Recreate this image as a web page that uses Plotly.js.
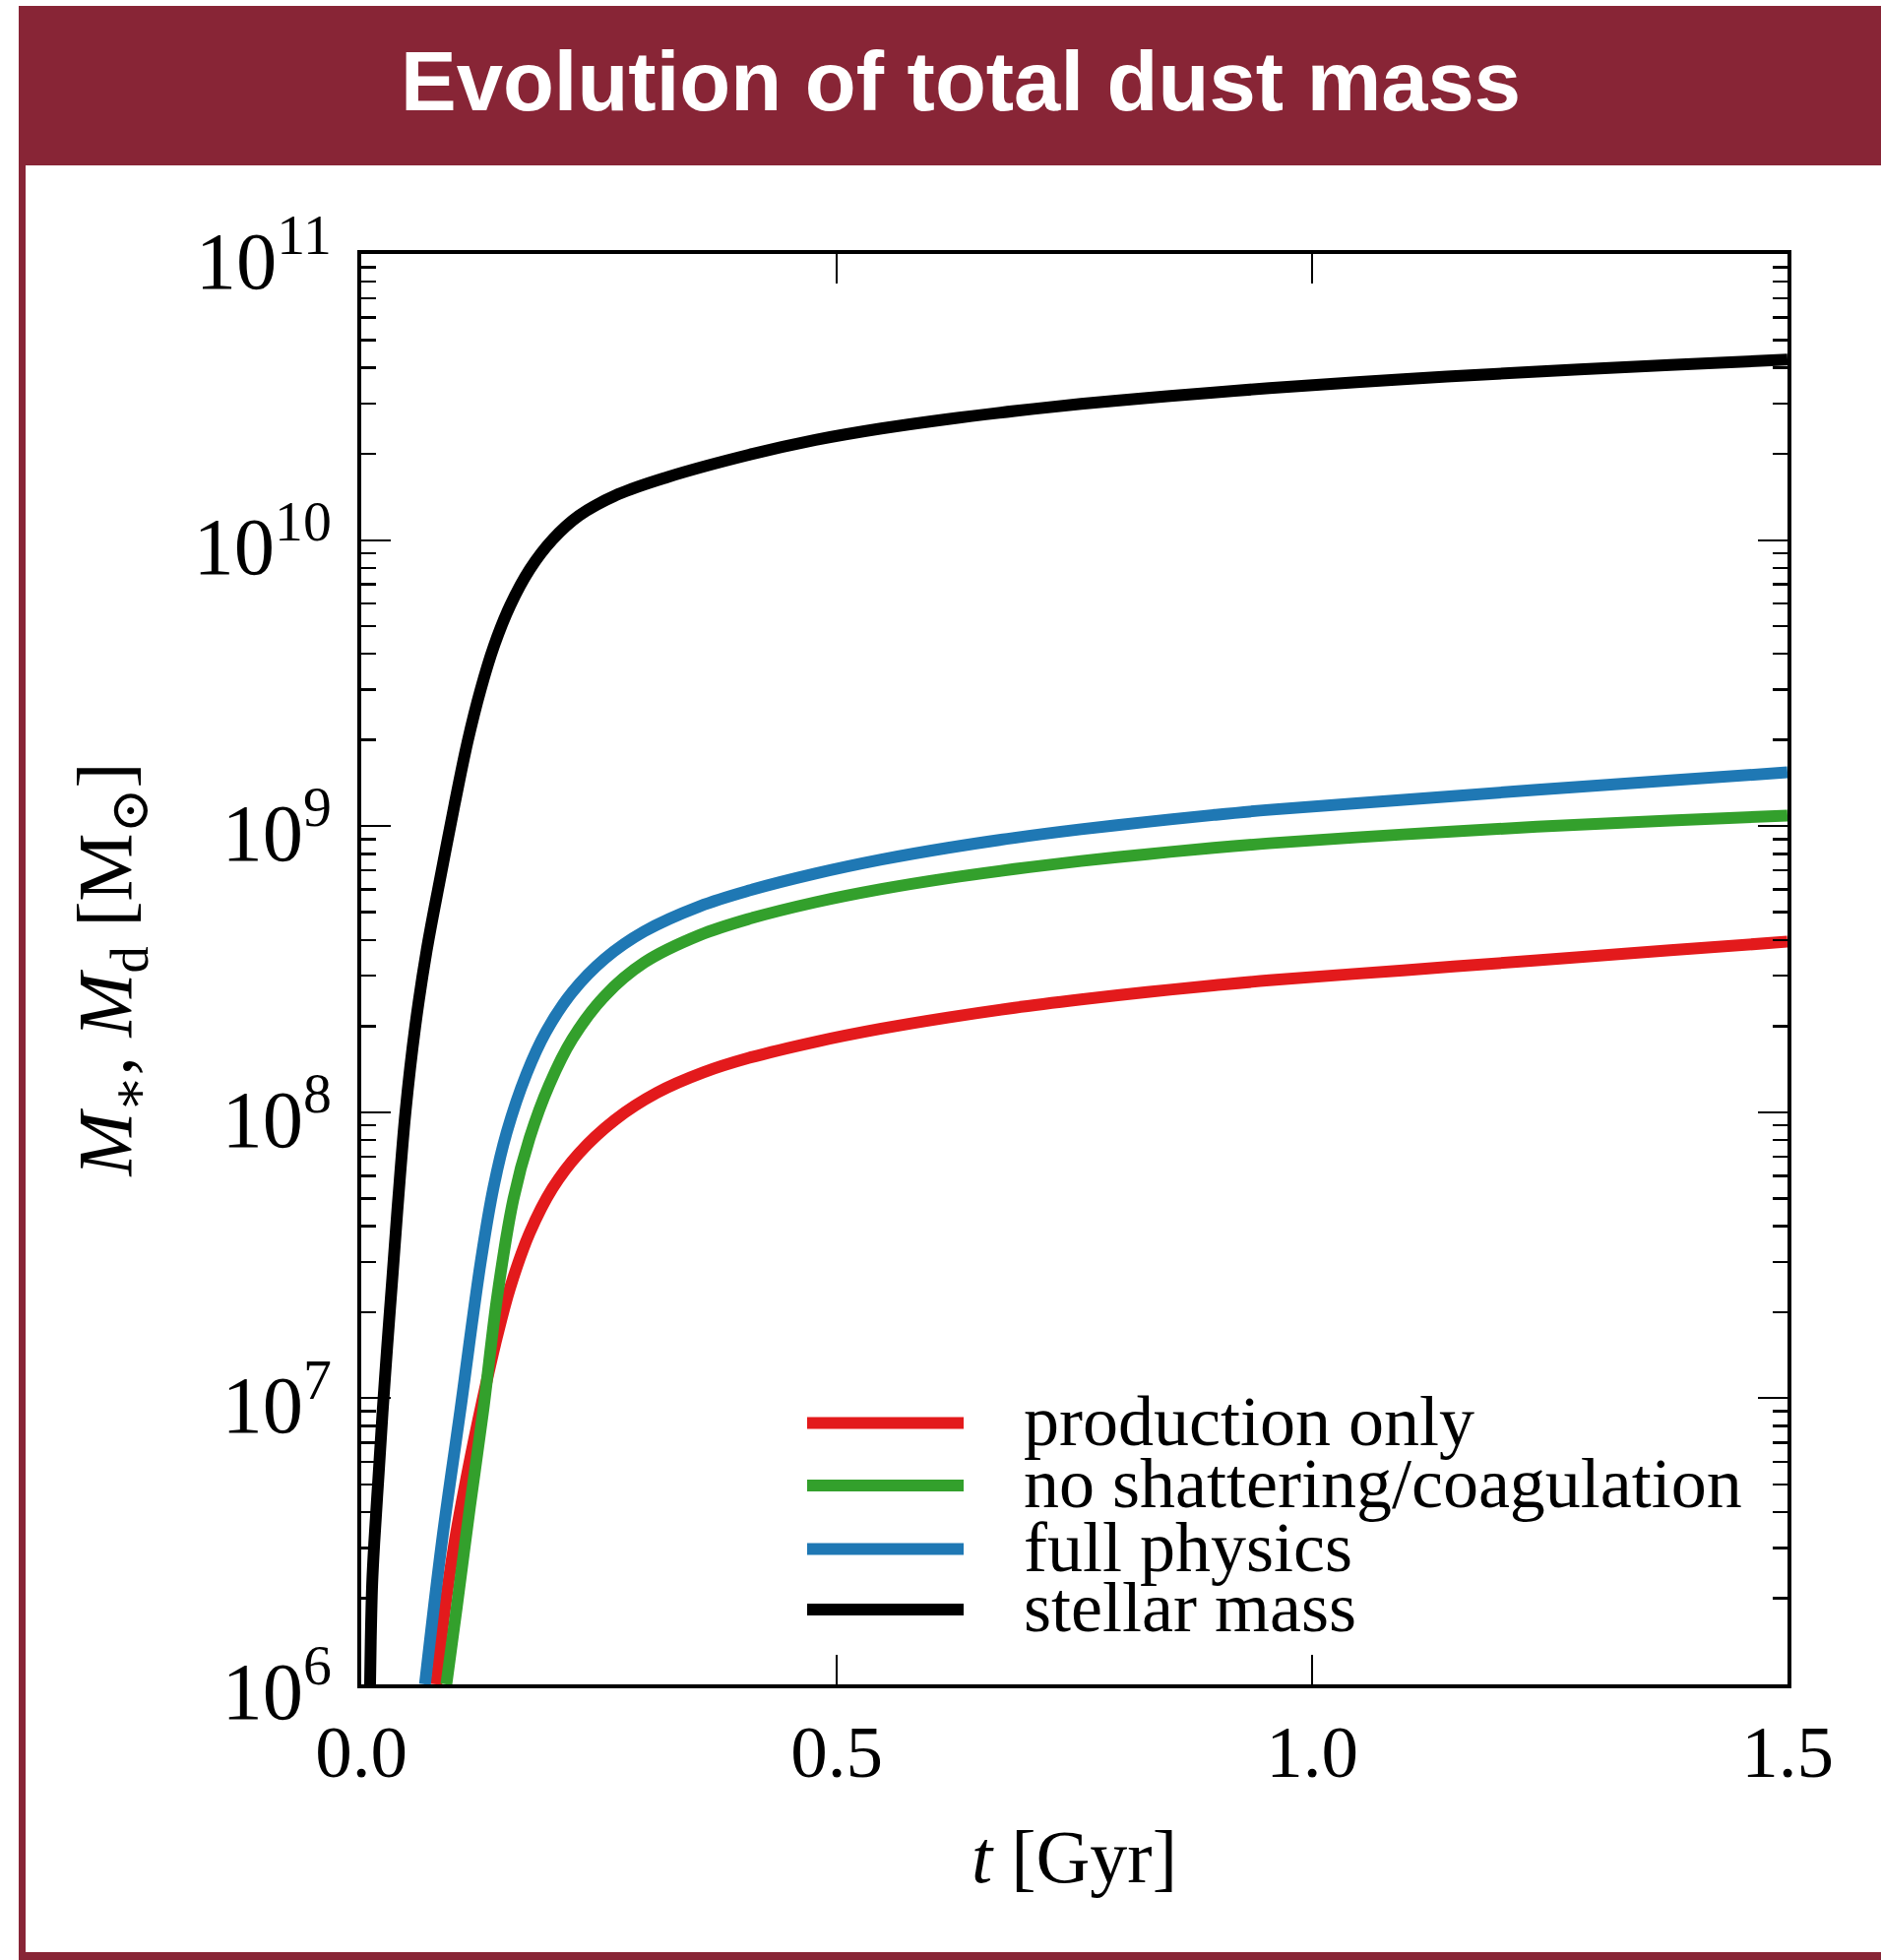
<!DOCTYPE html>
<html>
<head>
<meta charset="utf-8">
<script src="https://cdn.plot.ly/plotly-3.0.1.min.js"></script>
<style>
  html, body { margin: 0; padding: 0; background: #ffffff; }
  #chart { width: 1911px; height: 1991px; }
</style>
</head>
<body>
<div id="chart"></div>
<script>
// ---------------- DATA ----------------
// time in Gyr, mass as log10(M / Msun)
const seriesNames = ["production only", "no shattering/coagulation", "full physics", "stellar mass"];
const seriesColors = ["#e31a1c", "#33a02c", "#1f78b4", "#000000"];

const tProduction = [0.079, 0.0871, 0.098, 0.1118, 0.1273, 0.1428, 0.1566, 0.177, 0.2013, 0.2288, 0.2667, 0.311, 0.3597, 0.408, 0.4776, 0.547, 0.617, 0.687, 0.757, 0.8265, 0.8964, 0.955, 1.0958, 1.2367, 1.3767, 1.5];
const logMProduction = [6.0, 6.243, 6.494, 6.742, 6.99, 7.215, 7.387, 7.577, 7.735, 7.856, 7.973, 8.068, 8.139, 8.190, 8.246, 8.292, 8.331, 8.365, 8.394, 8.420, 8.443, 8.461, 8.496, 8.531, 8.566, 8.596];

const tNoShatter = [0.0895, 0.1005, 0.1143, 0.1284, 0.1432, 0.16, 0.1772, 0.1979, 0.222, 0.2563, 0.2976, 0.356, 0.408, 0.4776, 0.547, 0.617, 0.687, 0.757, 0.8265, 0.8964, 0.955, 1.0958, 1.2367, 1.3767, 1.5];
const logMNoShatter = [6.0, 6.27, 6.62, 6.96, 7.36, 7.696, 7.911, 8.097, 8.256, 8.407, 8.523, 8.619, 8.676, 8.734, 8.780, 8.818, 8.850, 8.878, 8.902, 8.924, 8.940, 8.971, 8.998, 9.020, 9.037];

const tFull = [0.067, 0.0849, 0.1043, 0.1256, 0.139, 0.153, 0.1738, 0.1944, 0.222, 0.2563, 0.2976, 0.356, 0.408, 0.4776, 0.547, 0.617, 0.687, 0.757, 0.8265, 0.8964, 0.955, 1.0958, 1.2367, 1.3767, 1.5];
const logMFull = [6.0, 6.50, 6.96, 7.475, 7.735, 7.93, 8.134, 8.282, 8.42, 8.537, 8.632, 8.720, 8.775, 8.834, 8.883, 8.924, 8.959, 8.989, 9.015, 9.039, 9.057, 9.092, 9.127, 9.160, 9.188];

const tStellar = [0.0093, 0.0100, 0.0115, 0.0138, 0.018, 0.0224, 0.0275, 0.0327, 0.039, 0.0465, 0.0568, 0.0688, 0.0826, 0.0981, 0.1118, 0.1256, 0.1394, 0.1566, 0.1773, 0.2013, 0.2289, 0.2702, 0.3218, 0.4078, 0.4776, 0.547, 0.617, 0.687, 0.757, 0.8265, 0.8964, 0.955, 1.0958, 1.2367, 1.3767, 1.5];
const logMStellar = [6.0, 6.15, 6.35, 6.50, 6.72, 6.95, 7.19, 7.42, 7.70, 8.00, 8.30, 8.565, 8.81, 9.075, 9.295, 9.478, 9.628, 9.771, 9.898, 10.002, 10.085, 10.160, 10.220, 10.298, 10.350, 10.390, 10.423, 10.451, 10.476, 10.497, 10.516, 10.531, 10.562, 10.589, 10.612, 10.631];

const xTickVals = [0.0, 0.5, 1.0, 1.5];
const xTickText = ["0.0", "0.5", "1.0", "1.5"];

// ---------------- LAYOUT GEOMETRY ----------------
const W = 1911, H = 1991;
const M = { l: 367, r: 95, t: 258, b: 280 };
const PW = W - M.l - M.r, PH = H - M.t - M.b;
const px = x => (x - M.l) / PW;            // page x (px) -> paper
const py = y => (H - M.b - y) / PH;        // page y (px) -> paper

const SERIF = "Liberation Serif, DejaVu Serif, serif";
const maroon = "#882536";

const xs = [tProduction, tNoShatter, tFull, tStellar];
const ys = [logMProduction, logMNoShatter, logMFull, logMStellar];

const traces = seriesNames.map((name, i) => ({
  type: "scatter",
  mode: "lines",
  name: name,
  x: xs[i],
  y: ys[i].map(v => Math.pow(10, v)),
  line: { color: seriesColors[i], width: 12, shape: "spline", smoothing: 1.0 },
  showlegend: false,
  hoverinfo: "x+y+name"
}));

// Legend built from the series names/colours
const legendRowsY = [1445.5, 1509, 1573.5, 1635];
const legendShapes = seriesNames.map((n, i) => ({
  type: "line", xref: "paper", yref: "paper",
  x0: px(820), x1: px(979), y0: py(legendRowsY[i]), y1: py(legendRowsY[i]),
  line: { color: seriesColors[i], width: 12 }
}));
const legendAnn = seriesNames.map((n, i) => ({
  xref: "paper", yref: "paper", x: px(1038), y: py(legendRowsY[i] - 2),
  xanchor: "left", yanchor: "middle", showarrow: false,
  text: n, font: { family: SERIF, size: 72, color: "#000" }
}));

const frameShapes = [
  { type: "rect", xref: "paper", yref: "paper", layer: "below",
    x0: px(19), x1: px(1915), y0: py(6), y1: py(168),
    fillcolor: maroon, line: { width: 0 } },
  { type: "rect", xref: "paper", yref: "paper", layer: "below",
    x0: px(19), x1: px(26), y0: py(168), y1: py(1995),
    fillcolor: maroon, line: { width: 0 } },
  { type: "rect", xref: "paper", yref: "paper", layer: "below",
    x0: px(19), x1: px(1915), y0: py(1983), y1: py(1995),
    fillcolor: maroon, line: { width: 0 } }
];

const layout = {
  width: W, height: H,
  margin: M,
  paper_bgcolor: "#ffffff",
  plot_bgcolor: "#ffffff",
  showlegend: false,
  title: {
    text: "Evolution of total dust mass",
    font: { family: "Liberation Sans, Arial, sans-serif", size: 85, color: "#ffffff", weight: "bold" },
    xref: "container", yref: "container",
    x: 976 / W, xanchor: "center",
    y: 1 - 82 / H, yanchor: "middle"
  },
  xaxis: {
    range: [0, 1.5],
    tickmode: "array", tickvals: xTickVals, ticktext: xTickText,
    ticks: "inside", ticklen: 30, tickwidth: 2, tickcolor: "#000",
    showline: true, linecolor: "#000", linewidth: 4, mirror: "allticks",
    showgrid: false, zeroline: false,
    tickfont: { family: SERIF, size: 75, color: "#000" },
    ticklabelstandoff: 0,
    title: { text: "<i>t</i> [Gyr]", font: { family: SERIF, size: 76, color: "#000" }, standoff: 40 }
  },
  yaxis: {
    type: "log",
    range: [6, 11],
    dtick: 1,
    exponentformat: "power", showexponent: "all",
    ticks: "inside", ticklen: 30, tickwidth: 2, tickcolor: "#000",
    minor: { ticks: "inside", ticklen: 15, tickwidth: 2.5, tickcolor: "#000", dtick: "D1", showgrid: false },
    showline: true, linecolor: "#000", linewidth: 4, mirror: "allticks",
    showgrid: false, zeroline: false,
    tickfont: { family: SERIF, size: 66, color: "#000" },
    ticklabelstandoff: 13,
    ticklabelshift: 6,
    title: { text: "<i>M</i><sub>∗</sub>, <i>M</i><sub>d</sub> [M<sub>⊙</sub>]", font: { family: SERIF, size: 78, color: "#000" }, standoff: 38 }
  },
  shapes: frameShapes.concat(legendShapes),
  annotations: legendAnn
};

Plotly.newPlot("chart", traces, layout, { staticPlot: true, displayModeBar: false });
</script>
</body>
</html>
